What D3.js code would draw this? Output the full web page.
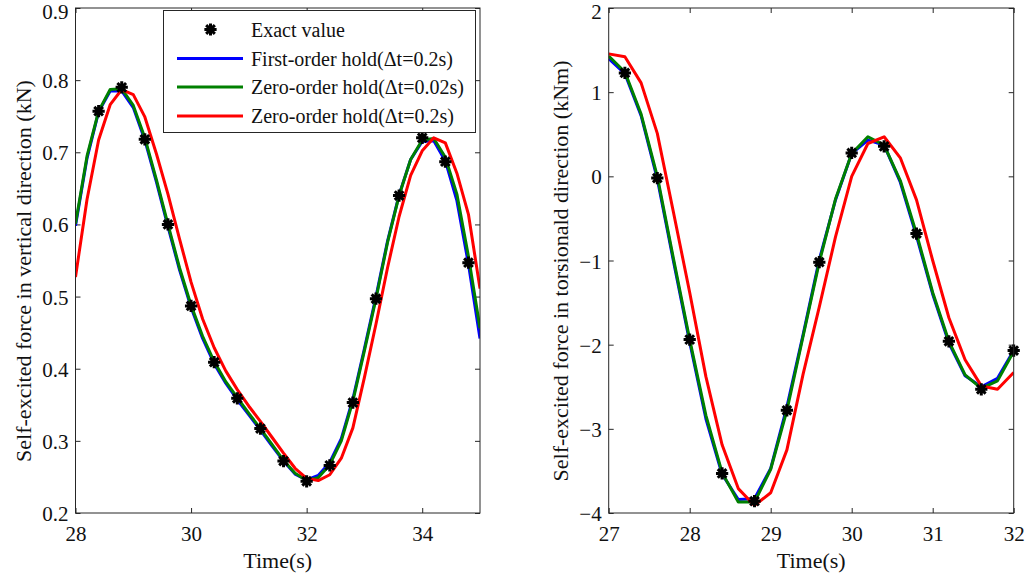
<!DOCTYPE html>
<html>
<head>
<meta charset="utf-8">
<script src="https://cdn.jsdelivr.net/npm/d3@7"></script>
<style>
  html, body { margin: 0; padding: 0; background: #fff; }
  svg { display: block; font-family: "Liberation Serif", "Times New Roman", serif; }
</style>
</head>
<body>
<svg id="chart" width="1027" height="581"></svg>
<script>
// ---- Vertical self-excited force (left panel) ----
const vExactT = [28.4, 28.8, 29.2, 29.6, 30.0, 30.4, 30.8, 31.2, 31.6, 32.0, 32.4, 32.8, 33.2, 33.6, 34.0, 34.4, 34.8];
const vExact  = [0.757, 0.790, 0.718, 0.600, 0.487, 0.409, 0.359, 0.317, 0.272, 0.244, 0.266, 0.353, 0.497, 0.640, 0.720, 0.687, 0.547];

const vTime = [28.0, 28.2, 28.4, 28.6, 28.8, 29.0, 29.2, 29.4, 29.6, 29.8, 30.0, 30.2, 30.4, 30.6, 30.8, 31.0, 31.2, 31.4,
               31.6, 31.8, 32.0, 32.2, 32.4, 32.6, 32.8, 33.0, 33.2, 33.4, 33.6, 33.8, 34.0, 34.2, 34.4, 34.6, 34.8, 35.0];
const vFirstHold = [0.598, 0.692, 0.756, 0.785, 0.785, 0.762, 0.717, 0.659, 0.597, 0.537, 0.485, 0.442, 0.407, 0.380, 0.357, 0.336, 0.315, 0.293,
                    0.272, 0.254, 0.246, 0.252, 0.270, 0.303, 0.358, 0.428, 0.500, 0.577, 0.641, 0.690, 0.715, 0.716, 0.688, 0.633, 0.545, 0.442];
const vZeroHoldFine = [0.601, 0.695, 0.757, 0.787, 0.788, 0.765, 0.720, 0.662, 0.600, 0.540, 0.488, 0.445, 0.410, 0.382, 0.360, 0.338, 0.317, 0.295,
                       0.273, 0.255, 0.245, 0.249, 0.267, 0.300, 0.355, 0.425, 0.497, 0.575, 0.640, 0.690, 0.717, 0.719, 0.693, 0.642, 0.556, 0.456];
const vZeroHold = [0.527, 0.635, 0.717, 0.766, 0.787, 0.780, 0.749, 0.698, 0.642, 0.580, 0.520, 0.469, 0.429, 0.397, 0.371, 0.348, 0.327, 0.305,
                   0.283, 0.262, 0.248, 0.245, 0.253, 0.276, 0.318, 0.388, 0.462, 0.540, 0.611, 0.668, 0.702, 0.720, 0.713, 0.671, 0.614, 0.511];

// ---- Torsional self-excited force (right panel) ----
const tExactT = [27.2, 27.6, 28.0, 28.4, 28.8, 29.2, 29.6, 30.0, 30.4, 30.8, 31.2, 31.6, 32.0];
const tExact  = [1.228, -0.02, -1.94, -3.53, -3.86, -2.78, -1.02, 0.278, 0.356, -0.68, -1.96, -2.53, -2.07];

const tTime = [27.0, 27.2, 27.4, 27.6, 27.8, 28.0, 28.2, 28.4, 28.6, 28.8, 29.0, 29.2, 29.4,
               29.6, 29.8, 30.0, 30.2, 30.4, 30.6, 30.8, 31.0, 31.2, 31.4, 31.6, 31.8, 32.0];
const tFirstHold = [1.40, 1.22, 0.72, -0.03, -1.01, -1.97, -2.88, -3.54, -3.84, -3.83, -3.47, -2.74, -1.88,
                    -0.99, -0.28, 0.27, 0.43, 0.37, -0.07, -0.71, -1.40, -1.98, -2.37, -2.50, -2.40, -2.07];
const tZeroHoldFine = [1.43, 1.24, 0.74, 0.00, -0.98, -1.94, -2.84, -3.52, -3.87, -3.87, -3.48, -2.78, -1.90,
                       -1.02, -0.27, 0.27, 0.47, 0.37, -0.05, -0.68, -1.38, -1.96, -2.36, -2.52, -2.43, -2.08];
const tZeroHold = [1.455, 1.42, 1.11, 0.51, -0.43, -1.38, -2.38, -3.19, -3.71, -3.91, -3.76, -3.25, -2.35,
                   -1.55, -0.72, 0.00, 0.39, 0.47, 0.22, -0.28, -1.00, -1.68, -2.18, -2.49, -2.53, -2.33];

// tick values and labels
const vXTicks = [28, 30, 32, 34];
const vYTicks = [0.2, 0.3, 0.4, 0.5, 0.6, 0.7, 0.8, 0.9];
const tXTicks = [27, 28, 29, 30, 31, 32];
const tYTicks = [-4, -3, -2, -1, 0, 1, 2];

const seriesNames = ["Exact value", "First-order hold(\u0394t=0.2s)", "Zero-order hold(\u0394t=0.02s)", "Zero-order hold(\u0394t=0.2s)"];
const seriesColors = ["#000000", "#0000ff", "#008000", "#ff0000"];

const svg = d3.select("#chart");
const axisColor = "#262626";

// MATLAB-style '*' marker: four crossing strokes
const asterisk = {
  draw(ctx, size) {
    const r = Math.sqrt(size) / 2;
    const d = r * Math.SQRT1_2;
    ctx.moveTo(-r, 0); ctx.lineTo(r, 0);
    ctx.moveTo(0, -r); ctx.lineTo(0, r);
    ctx.moveTo(-d, -d); ctx.lineTo(d, d);
    ctx.moveTo(-d, d); ctx.lineTo(d, -d);
  }
};

function panel(cfg) {
  const x = d3.scaleLinear().domain(cfg.xDomain).range([cfg.left, cfg.right]);
  const y = d3.scaleLinear().domain(cfg.yDomain).range([cfg.bottom, cfg.top]);
  const g = svg.append("g");

  const clipId = "clip" + cfg.id;
  svg.append("clipPath").attr("id", clipId)
    .append("rect").attr("x", cfg.left).attr("y", cfg.top)
    .attr("width", cfg.right - cfg.left).attr("height", cfg.bottom - cfg.top);

  // axes with inward ticks on all four sides
  const tickFont = 21;
  const titleFont = 22;
  const bottomAxis = g.append("g").attr("transform", `translate(0,${cfg.bottom})`)
    .call(d3.axisBottom(x).tickValues(cfg.xTicks).tickSize(-5).tickPadding(13).tickFormat(d3.format("d")));
  const topAxis = g.append("g").attr("transform", `translate(0,${cfg.top})`)
    .call(d3.axisTop(x).tickValues(cfg.xTicks).tickSize(-5).tickFormat(""));
  const leftAxis = g.append("g").attr("transform", `translate(${cfg.left},0)`)
    .call(d3.axisLeft(y).tickValues(cfg.yTicks).tickSize(-5).tickPadding(7).tickFormat(cfg.yFormat));
  const rightAxis = g.append("g").attr("transform", `translate(${cfg.right},0)`)
    .call(d3.axisRight(y).tickValues(cfg.yTicks).tickSize(-5).tickFormat(""));
  [bottomAxis, topAxis, leftAxis, rightAxis].forEach(a => {
    a.select(".domain").remove();
    a.selectAll(".tick line").attr("stroke", axisColor).attr("stroke-width", 1);
    a.selectAll(".tick text").attr("fill", "#111").attr("font-size", tickFont)
      .attr("font-family", "Liberation Serif");
  });
  bottomAxis.selectAll(".tick text").attr("dy", "0.71em");
  // the topmost label sits a little lower so it stays inside the page
  const yMax = cfg.yTicks[cfg.yTicks.length - 1];
  leftAxis.selectAll(".tick text").attr("dy", d => d === yMax ? "0.52em" : "0.36em");

  // lines
  const plot = g.append("g").attr("clip-path", `url(#${clipId})`);
  cfg.lines.forEach((vals, i) => {
    const pts = cfg.time.map((t, k) => [t, vals[k]]);
    plot.append("path")
      .attr("d", d3.line().x(d => x(d[0])).y(d => y(d[1]))(pts))
      .attr("fill", "none")
      .attr("stroke", seriesColors[i + 1])
      .attr("stroke-width", 3)
      .attr("stroke-linejoin", "round");
  });

  // exact values
  const sym = d3.symbol().type(asterisk).size(150);
  g.append("g").selectAll("path")
    .data(cfg.exactT.map((t, k) => [t, cfg.exact[k]]))
    .join("path")
    .attr("transform", d => `translate(${x(d[0])},${y(d[1])})`)
    .attr("d", sym)
    .attr("fill", "none")
    .attr("stroke", "#000")
    .attr("stroke-width", 3);

  // box
  g.append("rect")
    .attr("x", cfg.left).attr("y", cfg.top)
    .attr("width", cfg.right - cfg.left).attr("height", cfg.bottom - cfg.top)
    .attr("fill", "none").attr("stroke", axisColor).attr("stroke-width", 1);

  // axis titles
  g.append("text")
    .attr("x", (cfg.left + cfg.right) / 2).attr("y", 568)
    .attr("text-anchor", "middle").attr("font-size", titleFont).attr("fill", "#111")
    .text("Time(s)");
  g.append("text")
    .attr("transform", `translate(${cfg.yLabelX},${cfg.yLabelY}) rotate(-90)`)
    .attr("text-anchor", "middle").attr("font-size", titleFont).attr("fill", "#111")
    .text(cfg.yLabel);

  return { x, y, g };
}

panel({
  id: "v", left: 75.5, right: 480, top: 8, bottom: 513,
  xDomain: [28, 35], yDomain: [0.2, 0.9],
  xTicks: vXTicks, yTicks: vYTicks, yFormat: d3.format(".1f"),
  time: vTime, lines: [vFirstHold, vZeroHoldFine, vZeroHold],
  exactT: vExactT, exact: vExact,
  yLabel: "Self-excited force in vertical direction (kN)", yLabelX: 31, yLabelY: 271
});

panel({
  id: "t", left: 608.7, right: 1013.7, top: 8, bottom: 513,
  xDomain: [27, 32], yDomain: [-4, 2],
  xTicks: tXTicks, yTicks: tYTicks, yFormat: d3.format("d"),
  time: tTime, lines: [tFirstHold, tZeroHoldFine, tZeroHold],
  exactT: tExactT, exact: tExact,
  yLabel: "Self-excited force in torsionald direction (kNm)", yLabelX: 568, yLabelY: 271
});

// legend
const lg = svg.append("g");
lg.append("rect").attr("x", 163.5).attr("y", 10.5).attr("width", 312).attr("height", 122)
  .attr("fill", "#fff").attr("stroke", axisColor).attr("stroke-width", 1);
const rowY = [29.5, 58.5, 87, 116];
seriesNames.forEach((name, i) => {
  if (i === 0) {
    lg.append("path")
      .attr("transform", `translate(210.5,${rowY[i]})`)
      .attr("d", d3.symbol().type(asterisk).size(150)())
      .attr("fill", "none").attr("stroke", "#000").attr("stroke-width", 3);
  } else {
    lg.append("line").attr("x1", 177).attr("x2", 243).attr("y1", rowY[i]).attr("y2", rowY[i])
      .attr("stroke", seriesColors[i]).attr("stroke-width", 3);
  }
  lg.append("text").attr("x", 251).attr("y", rowY[i]).attr("dy", "0.35em")
    .attr("font-size", 20).attr("fill", "#111").text(name);
});
</script>
</body>
</html>
